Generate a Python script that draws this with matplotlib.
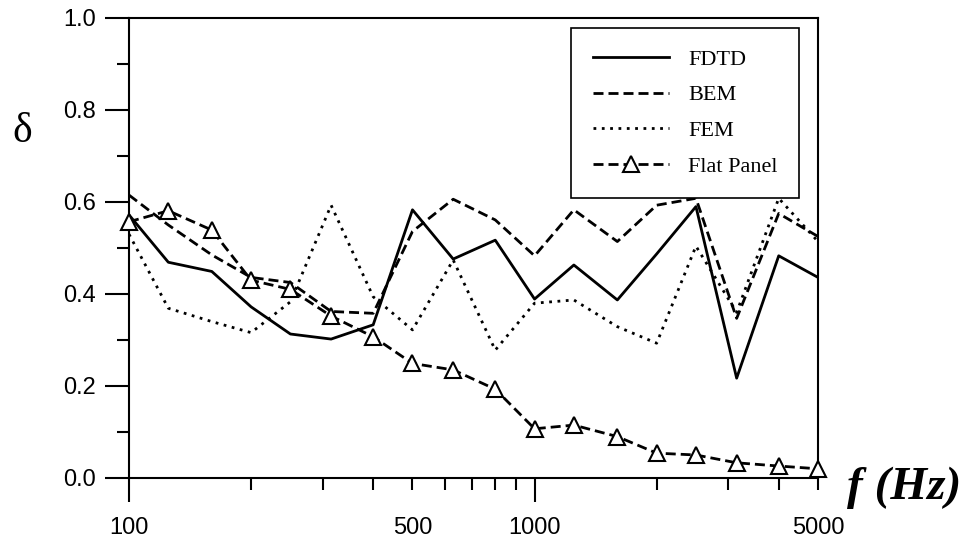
import matplotlib
matplotlib.use("Agg")
import matplotlib.pyplot as plt

# third-octave band centre frequencies (Hz)
freqs = [100, 125, 160, 200, 250, 315, 400, 500, 630, 800,
         1000, 1250, 1600, 2000, 2500, 3150, 4000, 5000]

# diffusion coefficient
fdtd = [0.572, 0.469, 0.449, 0.372, 0.313, 0.302, 0.333, 0.583, 0.476, 0.517,
        0.389, 0.463, 0.387, 0.487, 0.590, 0.217, 0.483, 0.436]
bem = [0.615, 0.550, 0.485, 0.436, 0.425, 0.362, 0.358, 0.536, 0.606, 0.561,
       0.483, 0.583, 0.514, 0.593, 0.608, 0.347, 0.575, 0.525]
fem = [0.530, 0.369, 0.340, 0.316, 0.383, 0.593, 0.394, 0.322, 0.474, 0.278,
       0.380, 0.387, 0.329, 0.293, 0.504, 0.360, 0.608, 0.514]
flat = [0.557, 0.581, 0.539, 0.430, 0.410, 0.352, 0.307, 0.249, 0.235, 0.193,
        0.107, 0.115, 0.090, 0.054, 0.050, 0.033, 0.026, 0.020]

major_x = [100, 1000]
minor_x = [200, 300, 400, 500, 600, 700, 800, 900, 2000, 3000, 4000, 5000]
minor_x_labels = ["", "", "", "500", "", "", "", "", "", "", "", "5000"]
y_major = [0.0, 0.2, 0.4, 0.6, 0.8, 1.0]
y_minor = [0.1, 0.3, 0.5, 0.7, 0.9]

fig = plt.figure(figsize=(9.65, 5.42), dpi=100)
ax = fig.add_axes([0.1337, 0.1181, 0.714, 0.8487])

lw = 2.0
ax.plot(freqs, fdtd, color="black", lw=lw, ls="-", label="FDTD")
ax.plot(freqs, bem, color="black", lw=lw, ls=(0, (3.6, 1.8)), label="BEM")
ax.plot(freqs, fem, color="black", lw=lw, ls=(0, (1.0, 2.0)), label="FEM")
ax.plot(freqs, flat, color="black", lw=lw, ls=(0, (3.6, 1.8)), marker="^",
        markersize=11, markerfacecolor="white", markeredgecolor="black",
        markeredgewidth=1.5, label="Flat Panel", clip_on=False, zorder=3)

ax.set_xscale("log")
ax.set_xlim(100, 5000)
ax.set_ylim(0, 1.0)

ax.set_xticks(major_x)
ax.set_xticklabels(["100", "1000"])
ax.set_xticks(minor_x, minor=True)
ax.set_xticklabels(minor_x_labels, minor=True)
ax.set_yticks(y_major)
ax.set_yticklabels(["%.1f" % v for v in y_major])
ax.set_yticks(y_minor, minor=True)

for lab in ax.get_xticklabels() + ax.get_xticklabels(minor=True) + ax.get_yticklabels():
    lab.set_fontfamily("Liberation Sans")
    lab.set_fontsize(17)

ax.tick_params(axis="both", which="major", direction="out", length=17, width=1.5)
ax.tick_params(axis="both", which="minor", direction="out", length=8.6, width=1.5)
ax.tick_params(axis="x", which="major", pad=11)
ax.tick_params(axis="x", which="minor", pad=19.4)
ax.tick_params(axis="y", which="major", pad=7)

for sp in ax.spines.values():
    sp.set_linewidth(1.5)

leg = ax.legend(loc="upper right", bbox_to_anchor=(0.972, 0.978), borderaxespad=0,
                prop={"family": "Liberation Serif", "size": 16}, handlelength=3.45,
                handletextpad=0.85, labelspacing=0.68, borderpad=0.95,
                fancybox=False, edgecolor="black", framealpha=1)
leg.get_frame().set_linewidth(1.2)

fig.text(0.023, 0.757, "\u03b4", family="Liberation Serif", fontsize=30,
         ha="center", va="center")
fig.text(0.878, 0.10, "f (Hz)", family="Liberation Serif", fontsize=34,
         fontweight="bold", fontstyle="italic", ha="left", va="center")

fig.savefig("out.png", dpi=100)
